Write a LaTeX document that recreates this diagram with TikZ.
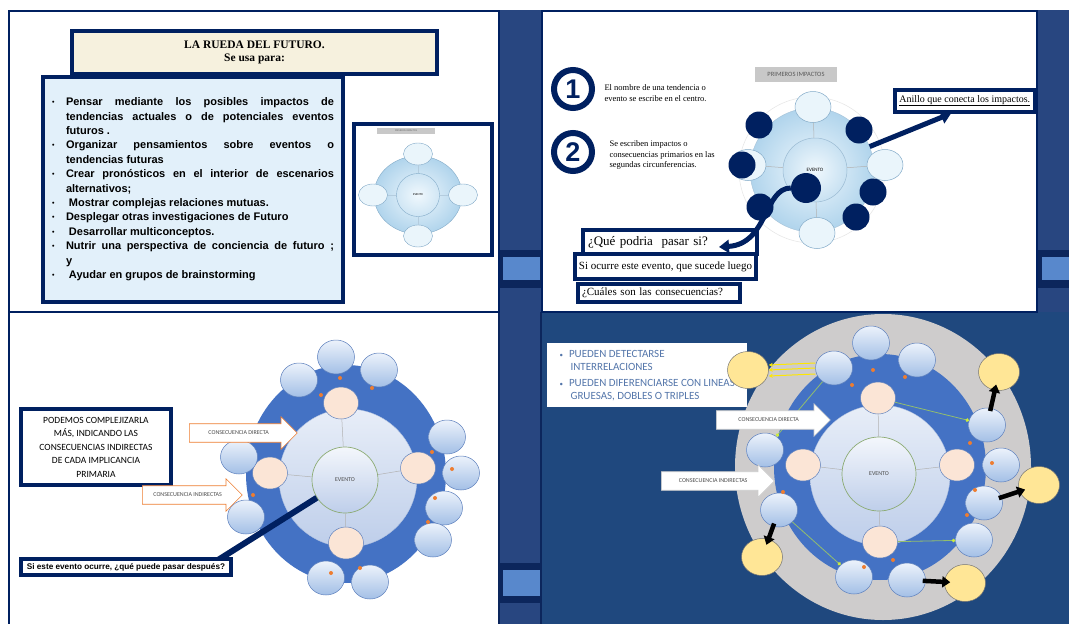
\documentclass[tikz,border=0pt]{standalone}
\usepackage{fontspec}
\setmainfont{Liberation Serif}
\setsansfont{Liberation Sans}
\newfontfamily\calibri{Carlito}
\usetikzlibrary{positioning,shapes.geometric,shapes.arrows,arrows.meta,calc}
\definecolor{navy}{RGB}{0,32,96}
\definecolor{stripblue}{RGB}{40,70,128}
\definecolor{stripdark}{RGB}{12,38,92}
\definecolor{striplight}{RGB}{88,136,204}
\definecolor{deepblue}{RGB}{31,72,126}
\definecolor{ringblue}{RGB}{68,114,196}
\definecolor{cream}{RGB}{246,241,222}
\definecolor{bulletbg}{RGB}{226,240,250}
\definecolor{peachc}{RGB}{251,229,214}
\definecolor{goldc}{RGB}{255,230,150}
\definecolor{ringgray}{RGB}{206,204,204}
\definecolor{bubbletop}{RGB}{236,242,251}
\definecolor{bubblebot}{RGB}{163,191,230}
\definecolor{bubbleline}{RGB}{96,130,190}
\definecolor{dotorange}{RGB}{237,125,49}
\definecolor{limec}{RGB}{204,236,60}
\definecolor{greenline}{RGB}{146,190,110}
\definecolor{textblue}{RGB}{84,118,170}
\definecolor{labelgray}{RGB}{200,200,200}
\definecolor{palecirc}{RGB}{234,245,251}
\definecolor{paleline}{RGB}{130,170,200}
\definecolor{disktop}{RGB}{232,238,248}
\definecolor{diskbot}{RGB}{190,206,234}
\definecolor{skyin}{RGB}{240,248,253}
\definecolor{skyout}{RGB}{176,212,236}

\newcommand{\ruedaitem}{\par\noindent\hangindent=14pt\hangafter=1%
  \makebox[14pt][l]{\raisebox{1pt}{\fontsize{7}{7}\selectfont\textbullet}}}

\begin{document}
\begin{tikzpicture}[
    x=1pt, y=-1pt,
    frame/.style={draw=navy, line width=4pt, fill=white, inner sep=0pt, anchor=north west},
    wheelring/.style={ellipse, fill=ringblue, inner sep=0pt},
    wheeldisk/.style={circle, top color=disktop, bottom color=diskbot, draw=bubbleline!50, line width=0.4pt, inner sep=0pt},
    eventcirc/.style={circle, top color=disktop!50!white, bottom color=diskbot, draw=greenline!70!gray, line width=0.7pt,
        inner sep=0pt, font=\calibri\fontsize{6}{6}\selectfont, text=black!70},
    peach/.style={ellipse, fill=peachc, draw=bubbleline, line width=0.5pt, minimum width=35pt, minimum height=32pt, inner sep=0pt},
    bubble/.style={ellipse, top color=bubbletop, bottom color=bubblebot, draw=bubbleline, line width=0.5pt,
        minimum width=37pt, minimum height=34pt, inner sep=0pt},
    gold/.style={ellipse, fill=goldc, draw=black!55, line width=0.5pt, minimum width=41pt, minimum height=37pt, inner sep=0pt},
    pale/.style={ellipse, fill=palecirc, draw=paleline, line width=0.5pt, minimum width=36pt, minimum height=31pt, inner sep=0pt},
    miniblob/.style={ellipse, fill=palecirc, draw=paleline, line width=0.4pt, minimum width=29pt, minimum height=22pt, inner sep=0pt},
    spoke/.style={draw=black!30, line width=0.5pt},
    blockarrow/.style={single arrow, single arrow head extend=7pt, inner ysep=7pt, inner xsep=4pt, fill=white,
        line width=0.6pt, font=\calibri\fontsize{6}{6}\selectfont, text=black!70},
    navyarrow/.style={-{Triangle[length=10pt,width=13pt]}, line width=5pt, draw=navy},
    blackarrow/.style={-{Triangle[length=8pt,width=11pt]}, line width=4.5pt, draw=black, shorten >=-6pt, shorten <=-3pt},
    goldarrow/.style={-{Stealth[length=4pt,width=4pt]}, line width=1pt, draw=yellow!90!orange},
    linkline/.style={-{Circle[length=3.5pt,width=3.5pt,fill=limec,color=limec]}, line width=0.8pt, draw=greenline},
    navydot/.style={circle, fill=navy, minimum size=27pt, inner sep=0pt},
    numring/.style={circle, draw=navy, line width=6pt, minimum size=38pt, inner sep=0pt, text=navy,
        font=\sffamily\bfseries\fontsize{27}{27}\selectfont}
]
\useasboundingbox (0,0) rectangle (1069,624);

% === Fonds et bandes ===
\fill[white] (0,0) rectangle (1069,624);
\fill[deepblue] (542,312) rectangle (1069,624);
\fill[stripblue] (499,10) rectangle (542,624);
\fill[stripblue] (1037,10) rectangle (1069,312);
\fill[stripdark] (499,250) rectangle (542,288);
\fill[striplight] (503,257) rectangle (540,280);
\fill[stripdark] (499,563) rectangle (542,603);
\fill[striplight] (503,570) rectangle (540,596);
\fill[stripdark] (1037,250) rectangle (1069,288);
\fill[striplight] (1042,257) rectangle (1069,280);
\draw[stripdark, line width=1.5pt] (499,10) -- (499,624);
\draw[stripdark, line width=1.5pt] (541,312) -- (541,624);
\draw[navy, line width=2.5pt] (9,11) rectangle (499,312);
\draw[navy, line width=2.5pt] (542,11) rectangle (1037,312);
\draw[navy, line width=2.5pt] (9,312) -- (9,624);

% === Panneau 1 : La rueda ===
\node[frame, fill=cream, minimum width=365pt, minimum height=43pt, align=center,
      font=\bfseries\fontsize{11.5}{13.5}\selectfont] (titulo) at (70,29)
{LA RUEDA DEL FUTURO.\\Se usa para:};

\node[frame, fill=bulletbg, minimum width=300pt, minimum height=225pt, text width=282pt, align=justify,
      font=\sffamily\bfseries\fontsize{11}{14.4}\selectfont] (usos) at (41,75)
{\ruedaitem Pensar mediante los posibles impactos de\linebreak tendencias actuales o de potenciales eventos\linebreak futuros .
 \ruedaitem Organizar pensamientos sobre eventos o\linebreak tendencias futuras
 \ruedaitem Crear pronósticos en el interior de escenarios\linebreak alternativos;
 \ruedaitem \hspace*{3pt}Mostrar complejas relaciones mutuas.
 \ruedaitem Desplegar otras investigaciones de Futuro
 \ruedaitem \hspace*{3pt}Desarrollar multiconceptos.
 \ruedaitem Nutrir una perspectiva de conciencia de futuro ;\linebreak y
 \ruedaitem \hspace*{3pt}Ayudar en grupos de brainstorming\vspace*{7pt}};

% miniatura de la rueda
\node[frame, line width=3.5pt, minimum width=138pt, minimum height=131pt] (miniwheel) at (352,122) {};
\node[fill=labelgray, minimum width=58pt, minimum height=6pt, inner sep=0pt,
      font=\calibri\fontsize{2.5}{3}\selectfont, text=black!60] (minilabel) at (406,131) {PRIMEROS IMPACTOS};
\node[ellipse, minimum width=88pt, minimum height=78pt, inner sep=0pt, inner color=skyin, outer color=skyout,
      draw=paleline, line width=0.4pt] (minidisk) at (418,195) {};
\node[circle, minimum size=43pt, inner sep=0pt, draw=paleline, line width=0.4pt,
      font=\calibri\fontsize{3}{3}\selectfont] (minievent) at (418,195) {EVENTO};
\node[miniblob] (minitop) at (418,154) {};
\node[miniblob] (minibottom) at (418,236) {};
\node[miniblob] (minileft) at (373,195) {};
\node[miniblob] (miniright) at (463,195) {};
\draw[spoke, draw=paleline!60] (minievent) -- (minitop);
\draw[spoke, draw=paleline!60] (minievent) -- (minibottom);
\draw[spoke, draw=paleline!60] (minievent) -- (minileft);
\draw[spoke, draw=paleline!60] (minievent) -- (miniright);

% === Panneau 2 : Pasos ===
\node[numring] (uno) at (573,89) {1};
\node[numring] (dos) at (573,152) {2};
\node[anchor=west, align=left, font=\fontsize{8.5}{10.5}\selectfont] (unotexto) at (601,93)
{El nombre de una tendencia o\\evento se escribe en el centro.};
\node[anchor=west, align=left, font=\fontsize{8.5}{10.5}\selectfont] (dostexto) at (606,155)
{Se escriben impactos o\\consecuencias primarios en las\\segundas circunferencias.};

\node[fill=labelgray, minimum width=82pt, minimum height=15pt, inner sep=0pt,
      font=\calibri\fontsize{6.5}{7}\selectfont, text=black!65] (primeros) at (796,74) {PRIMEROS IMPACTOS};
\node[circle, draw=black!10, line width=0.5pt, minimum size=146pt, inner sep=0pt] (anillocirc) at (812,170) {};
\node[circle, minimum size=124pt, inner sep=0pt, inner color=skyin, outer color=skyout,
      draw=paleline!70, line width=0.4pt] (trdisk) at (812,170) {};
\node[circle, minimum size=64pt, inner sep=0pt, inner color=skyin, outer color=skyout!70!white,
      draw=paleline!80, line width=0.5pt, font=\calibri\fontsize{5}{5}\selectfont] (trevent) at (815,170) {EVENTO};
\node[pale] (trtop) at (813,107) {};
\node[pale] (trright) at (885,165) {};
\node[pale] (trbottom) at (817,233) {};
\node[pale] (trleft) at (748,165) {};
\draw[spoke] (trevent) -- (trtop);
\draw[spoke] (trevent) -- (trright);
\draw[spoke] (trevent) -- (trbottom);
\draw[spoke] (trevent) -- (trleft);

\node[navydot] (d1) at (759,125) {};
\node[navydot] (d2) at (859,130) {};
\node[navydot] (d3) at (742,165) {};
\node[navydot] (d4) at (873,192) {};
\node[navydot] (d5) at (856,217) {};
\node[navydot] (d6) at (760,207) {};
\node[navydot, minimum size=30pt] (dcentro) at (806,188) {};

\node[frame, line width=3.5pt, minimum width=140pt, minimum height=22pt,
      font=\fontsize{10}{12}\selectfont] (anillo) at (893,88) {\underline{Anillo que conecta los impactos.}};
\node[frame, minimum width=174pt, minimum height=24pt, text width=164pt, align=left,
      font=\fontsize{13}{15}\selectfont] (que) at (581,228) {¿Qué podria\ \ pasar si?};
\node[frame, minimum width=181pt, minimum height=25pt,
      font=\fontsize{11}{13}\selectfont] (ocurre) at (573,252) {Si ocurre este evento, que sucede luego};
\node[frame, minimum width=162pt, minimum height=18pt, text width=154pt, align=left,
      font=\fontsize{11}{13}\selectfont] (cuales) at (576,282) {¿Cuáles son las consecuencias?};

\draw[navyarrow] (trdisk) -- ([xshift=58pt]anillo.south west);
\draw[navyarrow] (dcentro) .. controls (764,188) and (768,244) .. ([xshift=-40pt,yshift=-5pt]que.east);

% === Panneau 3 : Consecuencias indirectas ===
\node[wheelring, minimum width=200pt, minimum height=218pt] (blring) at (346,474) {};
\node[wheeldisk, minimum size=138pt] (bldisk) at (348,478) {};
\node[eventcirc, minimum size=66pt] (blevent) at (345,480) {EVENTO};
\node[peach] (bltop) at (341,403) {};
\node[peach] (blleft) at (270,473) {};
\node[peach] (blright) at (418,468) {};
\node[peach] (blbottom) at (346,543) {};
\draw[spoke] (blevent) -- (bltop);
\draw[spoke] (blevent) -- (blleft);
\draw[spoke] (blevent) -- (blright);
\draw[spoke] (blevent) -- (blbottom);

\node[bubble] (bl1) at (336,357) {};
\node[bubble] (bl2) at (379,370) {};
\node[bubble] (bl3) at (299,380) {};
\node[bubble] (bl4) at (447,437) {};
\node[bubble] (bl5) at (461,473) {};
\node[bubble] (bl6) at (444,508) {};
\node[bubble] (bl7) at (433,540) {};
\node[bubble] (bl8) at (370,582) {};
\node[bubble] (bl9) at (326,578) {};
\node[bubble] (bl10) at (239,457) {};
\node[bubble] (bl11) at (246,517) {};
\foreach \p in {(340,378),(372,388),(321,395),(432,452),(452,469),(435,498),(428,522),(360,568),(331,573),(253,495)}
    \fill[dotorange] \p circle (2);

\node[frame, minimum width=150pt, minimum height=76pt, align=center,
      font=\calibri\fontsize{9.5}{13.5}\selectfont] (complejizar) at (19,407)
{PODEMOS COMPLEJIZARLA\\MÁS, INDICANDO LAS\\CONSECUENCIAS INDIRECTAS\\DE CADA IMPLICANCIA\\PRIMARIA};

\node[blockarrow, draw=dotorange, minimum height=108pt, anchor=tail] (bldirecta) at (189,433) {CONSECUENCIA DIRECTA};
\node[blockarrow, draw=dotorange, minimum height=100pt, anchor=tail] (blindirecta) at (142,495) {CONSECUENCIA INDIRECTAS};

\draw[navy, line width=6pt] (218,560) -- (blevent);
\node[frame, minimum width=210pt, minimum height=16pt,
      font=\sffamily\bfseries\fontsize{8.2}{10}\selectfont] (sieste) at (19,557) {Si este evento ocurre, ¿qué puede pasar después?};

% === Panneau 4 : Interrelaciones ===
\node[ellipse, fill=ringgray, minimum width=296pt, minimum height=306pt, inner sep=0pt] (brhalo) at (883,467) {};
\node[wheelring, minimum width=212pt, minimum height=226pt] (brring) at (880,467) {};
\node[wheeldisk, minimum size=140pt] (brdisk) at (880,475) {};
\node[eventcirc, minimum size=74pt] (brevent) at (879,474) {EVENTO};
\node[peach] (brtop) at (878,398) {};
\node[peach] (brleft) at (803,465) {};
\node[peach] (brright) at (957,465) {};
\node[peach] (brbottom) at (880,542) {};
\draw[spoke] (brevent) -- (brtop);
\draw[spoke] (brevent) -- (brleft);
\draw[spoke] (brevent) -- (brright);
\draw[spoke] (brevent) -- (brbottom);

\node[bubble] (br1) at (871,343) {};
\node[bubble] (br2) at (917,360) {};
\node[bubble] (br3) at (834,368) {};
\node[bubble] (br4) at (987,425) {};
\node[bubble] (br5) at (1001,465) {};
\node[bubble] (br6) at (984,503) {};
\node[bubble] (br7) at (974,540) {};
\node[bubble] (br8) at (907,580) {};
\node[bubble] (br9) at (854,577) {};
\node[bubble] (br10) at (765,450) {};
\node[bubble] (br11) at (779,510) {};
\foreach \p in {(873,370),(905,377),(852,385),(970,443),(992,463),(975,490),(967,515),(893,560),(864,567),(783,492)}
    \fill[dotorange] \p circle (2);

\draw[linkline] (brtop) -- (br4);
\draw[linkline] (br3) -- (br10);
\draw[linkline] (br11) -- (br9);
\draw[linkline] (brbottom) -- (br7);

\node[fill=white, anchor=north west, minimum width=200pt, minimum height=64pt, inner sep=0pt, align=left,
      text=textblue, font=\calibri\fontsize{11}{13}\selectfont] (nota) at (547,343)
{{\fontsize{7}{7}\selectfont\textbullet}\hspace*{6pt}PUEDEN DETECTARSE\\\hspace*{11pt}INTERRELACIONES\\[3pt]
 {\fontsize{7}{7}\selectfont\textbullet}\hspace*{6pt}PUEDEN DIFERENCIARSE CON LINEAS\\\hspace*{11pt}GRUESAS, DOBLES O TRIPLES};

\node[gold] (gold1) at (748,370) {};
\node[gold] (gold2) at (999,372) {};
\node[gold] (gold3) at (1039,485) {};
\node[gold] (gold4) at (965,583) {};
\node[gold] (gold5) at (762,557) {};

\draw[goldarrow] ([yshift=5pt]br3.west) -- ([yshift=5pt]gold1.east);
\draw[goldarrow] (br3.west) -- (gold1.east);
\draw[goldarrow] ([yshift=-6pt]br3.west) -- ([yshift=-6pt]gold1.east);

\draw[blackarrow] (br4) -- (gold2);
\draw[blackarrow] (br6) -- (gold3);
\draw[blackarrow] (br8) -- (gold4);
\draw[blackarrow] (br11) -- (gold5);

\node[blockarrow, draw=black!20, minimum height=114pt, anchor=tail] (brdirecta) at (716,420) {CONSECUENCIA DIRECTA};
\node[blockarrow, draw=black!20, minimum height=113pt, anchor=tail] (brindirecta) at (661,481) {CONSECUENCIA INDIRECTAS};

\end{tikzpicture}
\end{document}
